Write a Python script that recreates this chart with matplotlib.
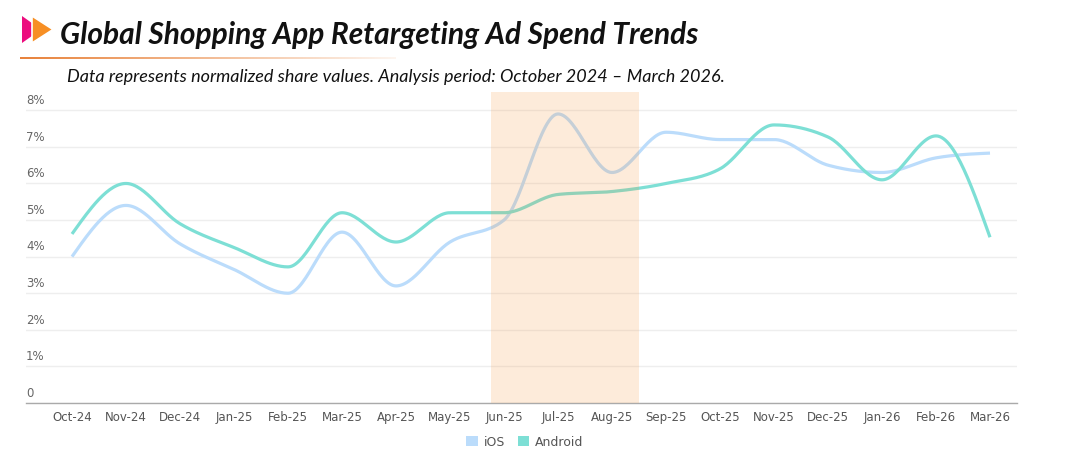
import numpy as np
import matplotlib.pyplot as plt
from matplotlib.patches import Polygon, Patch
from matplotlib import transforms

# Dados (participação normalizada, %)
meses = ["Oct-24", "Nov-24", "Dec-24", "Jan-25", "Feb-25", "Mar-25",
         "Apr-25", "May-25", "Jun-25", "Jul-25", "Aug-25", "Sep-25",
         "Oct-25", "Nov-25", "Dec-25", "Jan-26", "Feb-26", "Mar-26"]
ios = [4.0, 5.4, 4.35, 3.65, 3.0, 4.67, 3.2, 4.4, 5.0, 7.9, 6.3, 7.4,
       7.2, 7.2, 6.5, 6.3, 6.7, 6.83]
android = [4.62, 6.0, 4.9, 4.25, 3.72, 5.2, 4.4, 5.2, 5.2, 5.7, 5.78, 6.0,
           6.4, 7.6, 7.27, 6.1, 7.3, 4.53]
faixa_destaque = (7.75, 10.5)
yticks = [0, 1, 2, 3, 4, 5, 6, 7, 8]
ytick_labels = ["0", "1%", "2%", "3%", "4%", "5%", "6%", "7%", "8%"]

titulo = "Global Shopping App Retargeting Ad Spend Trends"
subtitulo = ("Data represents normalized share values. "
             "Analysis period: October 2024 \u2013 March 2026.")

COR_IOS = "#bbdcfb"
COR_ANDROID = "#7ddfd5"
COR_TEXTO = "#555555"


def curva_monotona(x, y, n=30):
    """Interpolação cúbica monótona (como d3.curveMonotoneX)."""
    x = np.asarray(x, float)
    y = np.asarray(y, float)
    h = np.diff(x)
    s = np.diff(y) / h
    m = np.zeros_like(y)
    for i in range(1, len(y) - 1):
        s0, s1 = s[i - 1], s[i]
        p = (s0 * h[i] + s1 * h[i - 1]) / (h[i - 1] + h[i])
        m[i] = (np.sign(s0) + np.sign(s1)) * min(abs(s0), abs(s1), 0.5 * abs(p))
    m[0] = (3 * s[0] - m[1]) / 2
    m[-1] = (3 * s[-1] - m[-2]) / 2
    xs, ys = [], []
    for i in range(len(x) - 1):
        t = np.linspace(0, 1, n, endpoint=(i == len(x) - 2))
        h00 = 2 * t**3 - 3 * t**2 + 1
        h10 = t**3 - 2 * t**2 + t
        h01 = -2 * t**3 + 3 * t**2
        h11 = t**3 - t**2
        xs.append(x[i] + t * h[i])
        ys.append(h00 * y[i] + h10 * h[i] * m[i] + h01 * y[i + 1]
                  + h11 * h[i] * m[i + 1])
    return np.concatenate(xs), np.concatenate(ys)


fig = plt.figure(figsize=(10.65, 4.6), dpi=100)
ax = fig.add_axes([26 / 1065, 1 - 404 / 460, (1017 - 26) / 1065, 311 / 460])

x = np.arange(len(meses))
for serie, cor, nome in [(ios, COR_IOS, "iOS"), (android, COR_ANDROID, "Android")]:
    xs, ys = curva_monotona(x, serie)
    ax.plot(xs, ys, color=cor, linewidth=2.3, solid_capstyle="butt",
            label=nome, zorder=3)

# Faixa de destaque por cima das linhas
ax.axvspan(*faixa_destaque, color="#f79437", alpha=0.18, linewidth=0, zorder=4)

ax.set_xlim(-0.852, 17.5)
ax.set_ylim(0, 8.5)
ax.set_xticks(x)
ax.set_xticklabels(meses, fontsize=8.5, color=COR_TEXTO, family="DejaVu Sans")
ax.tick_params(axis="x", length=0, pad=5)
ax.set_yticks(yticks)
ax.set_yticklabels([])
ax.tick_params(axis="y", length=0)
ax.grid(axis="y", color="#eeeeee", linewidth=1)
ax.set_axisbelow(True)
for lado in ["top", "right", "left"]:
    ax.spines[lado].set_visible(False)
ax.spines["bottom"].set_color("#aaaaaa")
ax.spines["bottom"].set_linewidth(1)

trans = transforms.blended_transform_factory(ax.transAxes, ax.transData)
deslocamento = transforms.offset_copy(trans, fig=fig, x=0, y=3, units="points")
for v, rot in zip(yticks, ytick_labels):
    ax.text(0, v, rot, transform=deslocamento, fontsize=8.5, color="#666666",
            ha="left", va="bottom", family="DejaVu Sans")

# Ícone e título
fig.patches.append(Polygon([[22, 443], [22, 416], [41, 429.5]], closed=True,
                           transform=None, facecolor="#ec0d7e", edgecolor="none"))
fig.patches.append(Polygon([[32, 443], [32, 416], [53, 429.5]], closed=True,
                           transform=None, facecolor="#f78f24", edgecolor="white",
                           linewidth=1.2))
fig.text(60 / 1065, 1 - 35 / 460, titulo, fontsize=21.5, fontweight="bold",
         style="italic", family="Lato", va="center", ha="left", color="#111111")

# Linha de separação em degradê
grad = np.linspace(0, 1, 256)
cores = np.array([[0.91, 0.51, 0.23, 1 - 0.92 * g] for g in grad])
ax_linha = fig.add_axes([20 / 1065, 1 - 60 / 460, 376 / 1065, 2 / 460])
ax_linha.imshow(cores[np.newaxis, :, :], aspect="auto")
ax_linha.set_axis_off()

fig.text(67 / 1065, 1 - 77 / 460, subtitulo, fontsize=13, style="italic",
         family="Lato", va="center", ha="left", color="#111111")

handles = [Patch(facecolor=COR_IOS, label="iOS"),
           Patch(facecolor=COR_ANDROID, label="Android")]
fig.legend(handles=handles, loc="center", bbox_to_anchor=(525 / 1065, 1 - 443 / 460),
           ncol=2, frameon=False, fontsize=9, handlelength=0.9, handleheight=0.9,
           handletextpad=0.5, columnspacing=1.0,
           labelcolor=COR_TEXTO)

fig.savefig("out.png", dpi=100)
